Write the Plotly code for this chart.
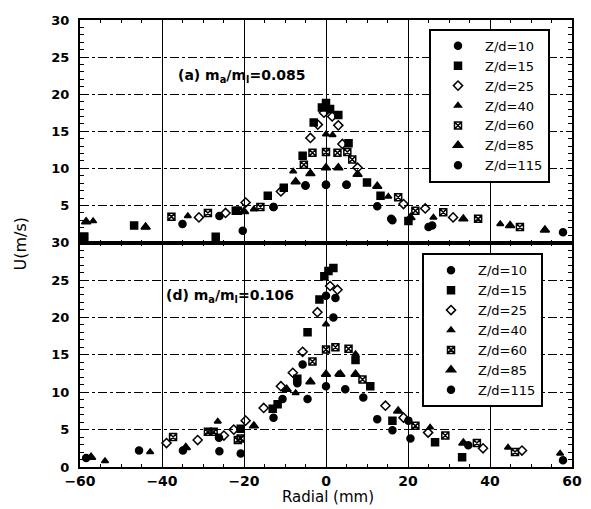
import plotly.graph_objects as go

# ---------------- data: panel (a) m_a/m_l = 0.085 ----------------
a10_x = [-20.3, -12.8, -5.0, 0.0, 5.0, 12.5, 15.9, 25.0]
a10_y = [1.6, 4.8, 7.7, 7.8, 7.8, 4.9, 3.2, 2.1]
a15_x = [-59.0, -46.8, -26.9, -22.0, -14.2, -10.3, -5.7, -3.0, -1.0, 0.0, 1.0, 3.0, 5.5, 10.0, 13.3, 20.1]
a15_y = [0.8, 2.3, 0.8, 4.3, 6.3, 7.4, 11.7, 16.2, 18.2, 18.8, 18.0, 17.2, 13.4, 8.1, 6.3, 2.9]
a25_x = [-31.0, -24.5, -19.6, -11.0, -3.8, -2.0, -0.5, 1.5, 3.0, 4.0, 7.7, 18.9, 24.2, 31.0]
a25_y = [3.4, 4.0, 5.4, 6.9, 14.1, 15.9, 17.5, 17.0, 15.8, 13.3, 10.1, 5.2, 4.6, 3.4]
a40_x = [-56.8, -44.0, -33.7, -17.6, -8.0, -3.8, 0.0, 1.6, 3.0, 7.7, 15.2, 26.2, 42.5]
a40_y = [2.9, 2.1, 3.6, 4.5, 9.6, 9.3, 14.6, 14.5, 10.1, 9.2, 6.2, 3.4, 2.5]
a60_x = [-59.0, -37.7, -28.8, -21.5, -16.0, -5.4, -3.3, 0.0, 2.8, 5.2, 6.4, 17.6, 21.8, 28.6, 37.1, 47.3]
a60_y = [0.8, 3.5, 4.0, 4.3, 4.8, 10.5, 12.1, 12.2, 12.1, 12.2, 11.2, 6.1, 4.3, 4.1, 3.2, 2.1]
a85_x = [-58.5, -44.0, -20.0, -7.4, -3.8, 0.0, 3.0, 7.7, 12.5, 20.6, 33.5, 44.9, 53.4]
a85_y = [2.8, 2.1, 4.2, 8.2, 9.3, 10.1, 10.1, 9.2, 7.6, 3.4, 3.2, 2.3, 1.7]
a115_x = [-35.0, -26.0, -12.8, -5.0, 0.0, 5.0, 16.2, 25.9, 57.8]
a115_y = [2.5, 3.6, 4.8, 7.7, 7.8, 7.8, 3.0, 2.3, 1.4]

# ---------------- data: panel (d) m_a/m = 0.106 ----------------
d10_x = [-26.0, -20.8, -12.8, -7.0, -5.7, 0.0, 2.3, 1.8, 9.1, 16.2, 20.6]
d10_y = [2.1, 1.8, 6.6, 11.2, 13.7, 22.9, 22.6, 20.0, 9.3, 4.9, 3.8]
d15_x = [-20.8, -13.0, -11.8, -7.0, -4.5, -1.6, -0.4, 0.6, 1.8, 7.2, 10.8, 16.2, 26.6, 33.2]
d15_y = [5.1, 7.8, 8.4, 11.8, 18.0, 22.4, 25.5, 26.2, 26.6, 14.3, 10.8, 6.2, 3.3, 1.3]
d25_x = [-38.9, -31.3, -24.9, -22.5, -19.6, -15.2, -11.0, -8.1, -5.7, -2.1, 1.0, 2.8, 14.5, 18.9, 24.9, 38.3, 47.8]
d25_y = [3.2, 3.6, 4.2, 5.0, 6.2, 7.9, 10.8, 12.6, 15.4, 20.7, 24.2, 23.7, 8.2, 6.6, 4.6, 2.5, 2.2]
d40_x = [-53.9, -42.9, -26.4, -7.4, 0.0, 3.0, 7.2, 25.4, 44.4, 57.1]
d40_y = [0.8, 2.0, 6.1, 9.9, 19.1, 12.4, 15.1, 5.3, 2.6, 1.8]
d60_x = [-37.3, -28.8, -27.4, -21.5, -20.8, -3.3, 0.0, 2.3, 5.5, 8.9, 21.8, 29.1, 36.8, 46.1]
d60_y = [4.0, 4.7, 4.7, 3.6, 3.8, 14.1, 15.7, 16.0, 15.8, 11.7, 5.5, 4.2, 3.2, 2.0]
d85_x = [-57.3, -34.2, -17.6, -9.6, -3.8, 0.0, 3.5, 7.2, 17.6, 33.5]
d85_y = [1.3, 2.6, 5.5, 10.4, 11.4, 12.4, 12.4, 12.4, 7.5, 3.2]
d115_x = [-58.5, -45.6, -34.9, -26.1, -10.6, -4.5, 0.0, 4.7, 12.5, 20.1, 34.7, 57.8]
d115_y = [1.2, 2.2, 2.2, 3.9, 9.1, 9.1, 10.8, 10.4, 6.4, 6.2, 2.9, 0.9]

series_names = ["Z/d=10", "Z/d=15", "Z/d=25", "Z/d=40", "Z/d=60", "Z/d=85", "Z/d=115"]
x_ticks = [-60, -40, -20, 0, 20, 40, 60]
y_ticks_top = [5, 10, 15, 20, 25, 30]
y_ticks_bottom = [0, 5, 10, 15, 20, 25, 30]

panel_a = [(a10_x, a10_y), (a15_x, a15_y), (a25_x, a25_y), (a40_x, a40_y),
           (a60_x, a60_y), (a85_x, a85_y), (a115_x, a115_y)]
panel_d = [(d10_x, d10_y), (d15_x, d15_y), (d25_x, d25_y), (d40_x, d40_y),
           (d60_x, d60_y), (d85_x, d85_y), (d115_x, d115_y)]

symbols = ["circle", "square", "diamond-open", "triangle-up", "square-x-open", "triangle-up", "circle"]
sizes = [7, 7, 7, 6, 7, 8, 7]

fig = go.Figure()
for i, name in enumerate(series_names):
    xs, ys = panel_a[i]
    fig.add_trace(go.Scatter(
        x=xs, y=ys, mode="markers", name=name, xaxis="x2", yaxis="y2",
        legend="legend",
        marker=dict(symbol=symbols[i], size=sizes[i], color="black",
                    line=dict(color="black", width=1.5)),
    ))
for i, name in enumerate(series_names):
    xs, ys = panel_d[i]
    fig.add_trace(go.Scatter(
        x=xs, y=ys, mode="markers", name=name, xaxis="x", yaxis="y",
        legend="legend2",
        marker=dict(symbol=symbols[i], size=sizes[i], color="black",
                    line=dict(color="black", width=1.5)),
    ))

FONT = "DejaVu Sans"
ytickfont = dict(family=FONT, size=13, color="black", weight="bold")
xtickfont = dict(family=FONT, size=14, color="black", weight="bold")
split = 0.502

# plot area in page pixels (page body has an 8px margin)
PX0, PX1, PY0, PY1 = 80.0, 572.0, 13.0, 467.0


def px_to_paper_x(px):
    return (px - PX0) / (PX1 - PX0)


def px_to_paper_y(py):
    return (PY1 - py) / (PY1 - PY0)


xcommon = dict(range=[-60, 60], showline=True, linecolor="black", linewidth=2,
               mirror="allticks", ticks="inside", ticklen=5, tickcolor="black",
               tickvals=x_ticks, showgrid=True, gridcolor="black", gridwidth=1.2,
               zeroline=False, minor=dict(dtick=5, ticks="inside", ticklen=3, tickcolor="black"))
ycommon = dict(range=[0, 30], showline=True, linecolor="black", linewidth=2,
               mirror="allticks", ticks="inside", ticklen=6, tickcolor="black",
               showgrid=True, gridcolor="black", gridwidth=1, griddash="dashdot",
               zeroline=False, tickfont=ytickfont, ticklabelstandoff=6,
               minor=dict(dtick=1, ticks="inside", ticklen=4, tickcolor="black"))

# legend boxes (page px): left, top, and estimated plotly-rendered size
LEG_W, LEG_H = 116, 150
leg1_left, leg1_top = 429, 22
leg2_left, leg2_top = 422, 250
SH = 4

shapes = []
for (lx, ty) in [(leg1_left, leg1_top), (leg2_left, leg2_top)]:
    shapes.append(dict(type="rect", xref="paper", yref="paper", layer="above",
                       x0=px_to_paper_x(lx + SH), x1=px_to_paper_x(lx + LEG_W + SH),
                       y0=px_to_paper_y(ty + LEG_H + SH), y1=px_to_paper_y(ty + SH),
                       fillcolor="black", line=dict(width=0)))

legend_common = dict(xanchor="left", yanchor="top", bgcolor="white",
                     bordercolor="black", borderwidth=2,
                     font=dict(family=FONT, size=13, color="black"),
                     tracegroupgap=0, itemwidth=44)

fig.update_layout(
    width=583, height=501,
    margin=dict(l=72, r=19, t=5, b=42),
    paper_bgcolor="white", plot_bgcolor="white",
    xaxis=dict(**xcommon, anchor="y", domain=[0, 1], tickfont=xtickfont),
    xaxis2=dict(**xcommon, anchor="y2", domain=[0, 1], matches="x", showticklabels=False),
    yaxis=dict(**ycommon, anchor="x", domain=[0, split], tickvals=y_ticks_bottom),
    yaxis2=dict(**ycommon, anchor="x2", domain=[split, 1], tickvals=y_ticks_top),
    legend=dict(x=px_to_paper_x(leg1_left), y=px_to_paper_y(leg1_top), **legend_common),
    legend2=dict(x=px_to_paper_x(leg2_left), y=px_to_paper_y(leg2_top), **legend_common),
    showlegend=True,
    shapes=shapes,
    annotations=[
        dict(text="(a) m<sub>a</sub>/m<sub>l</sub>=0.085", xref="x2", yref="y2",
             x=-36.5, y=22.5, xanchor="left", yanchor="middle", showarrow=False,
             font=dict(family=FONT, size=14, color="black", weight="bold")),
        dict(text="(d) m<sub>a</sub>/m<sub>l</sub>=0.106", xref="x", yref="y",
             x=-39.6, y=22.9, xanchor="left", yanchor="middle", showarrow=False,
             font=dict(family=FONT, size=14, color="black", weight="bold")),
        dict(text="U(m/s)", xref="paper", yref="paper", x=px_to_paper_x(20), y=px_to_paper_y(240),
             textangle=-90, showarrow=False, xanchor="center", yanchor="middle",
             font=dict(family=FONT, size=16, color="black")),
        dict(text="Radial (mm)", xref="paper", yref="paper", x=px_to_paper_x(328), y=px_to_paper_y(497),
             showarrow=False, xanchor="center", yanchor="middle",
             font=dict(family=FONT, size=15, color="black")),
    ],
)

fig.write_html("out.html")
